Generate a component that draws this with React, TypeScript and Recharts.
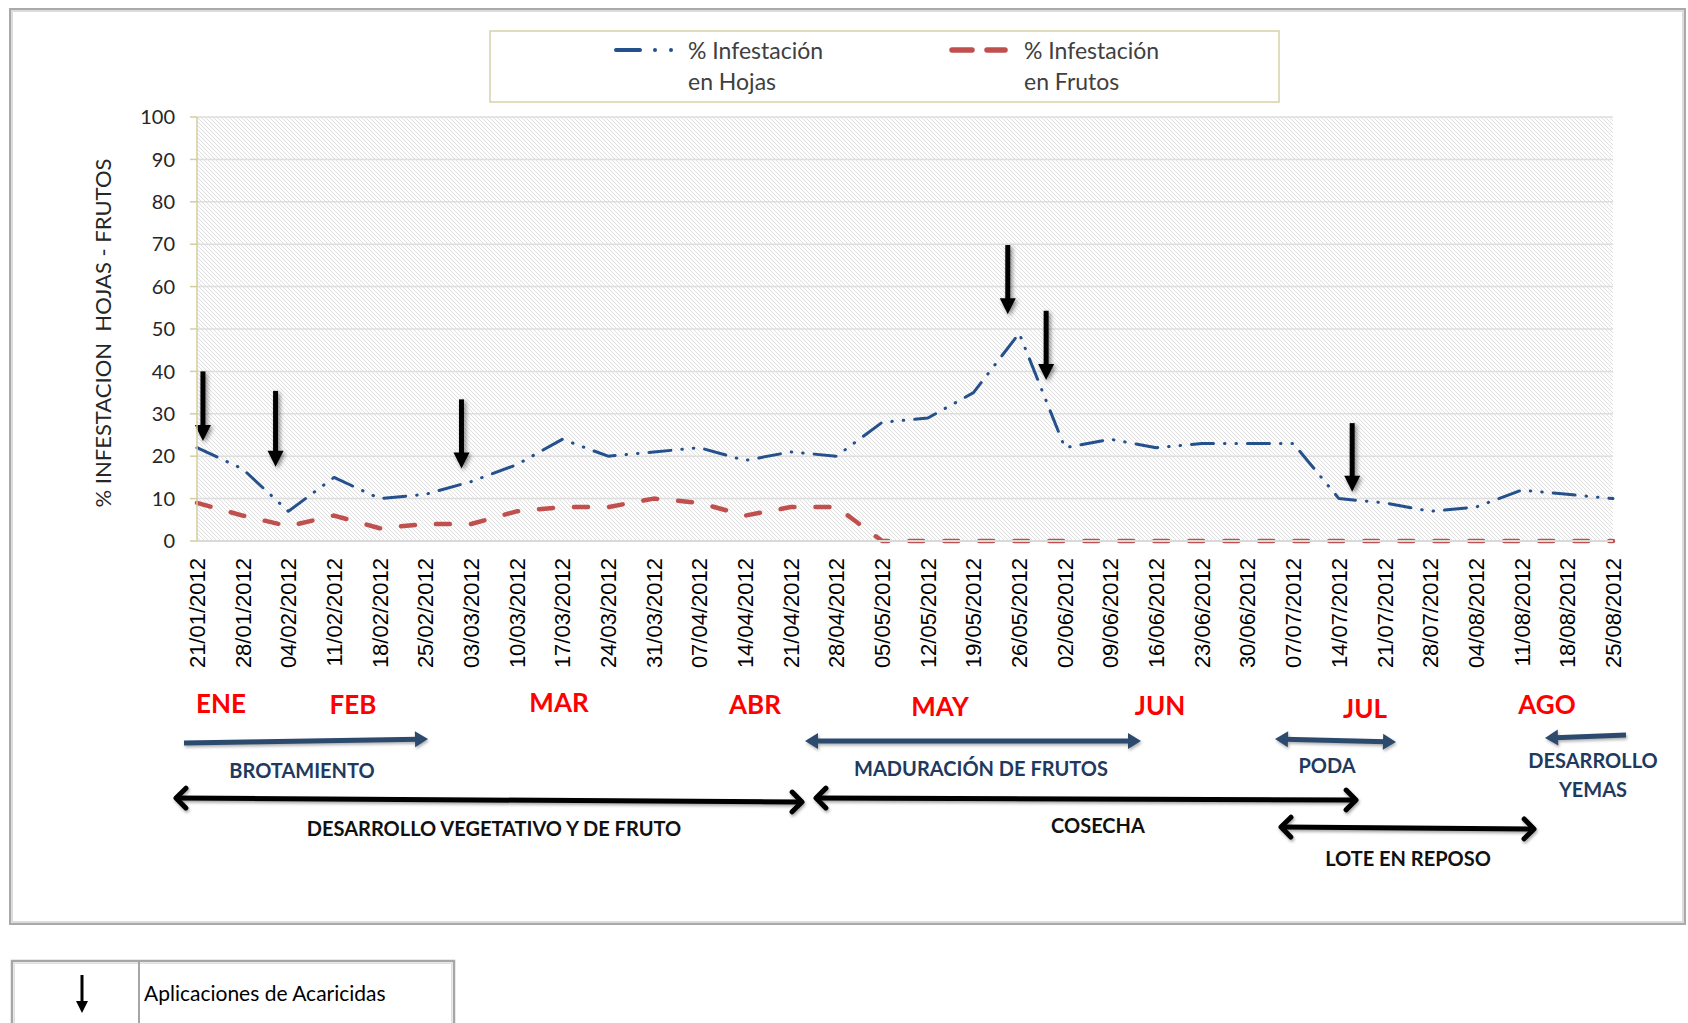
import { LineChart, Line, XAxis, YAxis, CartesianGrid, ReferenceLine } from "recharts";

const fechas = [
  "21/01/2012", "28/01/2012", "04/02/2012", "11/02/2012", "18/02/2012", "25/02/2012",
  "03/03/2012", "10/03/2012", "17/03/2012", "24/03/2012", "31/03/2012", "07/04/2012",
  "14/04/2012", "21/04/2012", "28/04/2012", "05/05/2012", "12/05/2012", "19/05/2012",
  "26/05/2012", "02/06/2012", "09/06/2012", "16/06/2012", "23/06/2012", "30/06/2012",
  "07/07/2012", "14/07/2012", "21/07/2012", "28/07/2012", "04/08/2012", "11/08/2012",
  "18/08/2012", "25/08/2012",
];

const infHojas = [22, 17, 7, 15, 10, 11, 14, 18, 24, 20, 21, 22, 19, 21, 20, 28, 29, 35, 49, 22, 24, 22, 23, 23, 23, 10, 9, 7, 8, 12, 11, 10];
const infFrutos = [9, 6, 3.5, 6, 3, 4, 4, 7, 8, 8, 10, 9, 6, 8, 8, 0, 0, 0, 0, 0, 0, 0, 0, 0, 0, 0, 0, 0, 0, 0, 0, 0];

const yTicks = [0, 10, 20, 30, 40, 50, 60, 70, 80, 90, 100];
const yTicksMenores = [0, 2, 4, 6, 8, 10, 12, 14, 16, 18, 20, 22, 24, 26, 28, 30, 32, 34, 36, 38, 40, 42, 44, 46, 48, 50, 52, 54, 56, 58, 60, 62, 64, 66, 68, 70, 72, 74, 76, 78, 80, 82, 84, 86, 88, 90, 92, 94, 96, 98, 100];

// aplicaciones de acaricidas: posicion (semana), inicio y punta de la flecha (%)
const aplicaciones = [
  { pos: 0.13, desde: 40, hasta: 23.6 },
  { pos: 1.72, desde: 35.4, hasta: 17.5 },
  { pos: 5.79, desde: 33.4, hasta: 17.1 },
  { pos: 17.75, desde: 69.8, hasta: 53.5 },
  { pos: 18.59, desde: 54.3, hasta: 38 },
  { pos: 25.29, desde: 27.8, hasta: 11.6 },
];

const meses = [
  { t: "ENE", x: 221, y: 703 },
  { t: "FEB", x: 353, y: 704 },
  { t: "MAR", x: 559, y: 702 },
  { t: "ABR", x: 755, y: 704 },
  { t: "MAY", x: 940, y: 706 },
  { t: "JUN", x: 1160, y: 705 },
  { t: "JUL", x: 1365, y: 708 },
  { t: "AGO", x: 1547, y: 704 },
];

const data = fechas.map((f, i) => ({ i, fecha: f, hojas: infHojas[i], frutos: infFrutos[i] }));

const AZUL = "#24508c";
const ROJO = "#c0504d";
const NAVY = "#2c4a6e";
const KHAKI = "#d6cc9c";

const FechaTick = (props: any) => {
  const { x, y, payload } = props;
  return (
    <text
      x={x}
      y={y}
      transform={`rotate(-90 ${x} ${y})`}
      textAnchor="end"
      dy="0.36em"
      fontFamily="'Liberation Sans', Arial, sans-serif"
      fontSize={22}
      fill="#000"
    >
      {fechas[payload.value]}
    </text>
  );
};

const FlechaAplicacion = (props: any) => {
  const { x1, y1, x2, y2 } = props;
  return (
    <g style={{ filter: "drop-shadow(2px 2px 2px rgba(0,0,0,0.45))" }}>
      <line x1={x1} y1={y1} x2={x2} y2={y2 - 10} stroke="#000" strokeWidth={5} />
      <polygon points={`${x2 - 8},${y2 - 16} ${x2 + 8},${y2 - 16} ${x2},${y2}`} fill="#000" />
    </g>
  );
};

function FlechaAzul({ x1, y1, x2, y2, inicio, fin }: any) {
  const ang = Math.atan2(y2 - y1, x2 - x1);
  const cab = (x: number, y: number, a: number) => {
    const L = 13, W = 8;
    const bx = x - L * Math.cos(a), by = y - L * Math.sin(a);
    const px = -Math.sin(a) * W, py = Math.cos(a) * W;
    return `${x},${y} ${bx + px},${by + py} ${bx - px},${by - py}`;
  };
  const ax = inicio ? x1 + 10 * Math.cos(ang) : x1;
  const ay = inicio ? y1 + 10 * Math.sin(ang) : y1;
  const bx = fin ? x2 - 10 * Math.cos(ang) : x2;
  const by = fin ? y2 - 10 * Math.sin(ang) : y2;
  return (
    <g style={{ filter: "drop-shadow(1px 2px 1.5px rgba(0,0,0,0.3))" }}>
      <line x1={ax} y1={ay} x2={bx} y2={by} stroke={NAVY} strokeWidth={5} />
      {fin && <polygon points={cab(x2, y2, ang)} fill={NAVY} />}
      {inicio && <polygon points={cab(x1, y1, ang + Math.PI)} fill={NAVY} />}
    </g>
  );
}

function FlechaNegra({ x1, y1, x2, y2 }: any) {
  const ang = Math.atan2(y2 - y1, x2 - x1);
  const chev = (x: number, y: number, a: number) => {
    const L = 14;
    const p1 = [x - L * Math.cos(a - Math.PI / 4), y - L * Math.sin(a - Math.PI / 4)];
    const p2 = [x - L * Math.cos(a + Math.PI / 4), y - L * Math.sin(a + Math.PI / 4)];
    return `${p1[0]},${p1[1]} ${x},${y} ${p2[0]},${p2[1]}`;
  };
  return (
    <g style={{ filter: "drop-shadow(1px 2px 1.5px rgba(0,0,0,0.35))" }} stroke="#000" strokeWidth={5} fill="none" strokeLinecap="round" strokeLinejoin="round">
      <line x1={x1 + 2} y1={y1} x2={x2 - 2} y2={y2} />
      <polyline points={chev(x2, y2, ang)} />
      <polyline points={chev(x1, y1, ang + Math.PI)} />
    </g>
  );
}

const fuenteEtiq = "Lato, 'Open Sans', sans-serif";

export default function App() {
  return (
    <div style={{ position: "absolute", left: 0, top: 0, width: 1688, height: 1023, overflow: "hidden", background: "#fff" }}>
      <div
        style={{
          position: "absolute",
          left: 9,
          top: 8,
          width: 1677,
          height: 917,
          boxSizing: "border-box",
          border: "2px solid #a9a9a9",
          boxShadow: "inset 0 0 0 2px #dcdcdc",
        }}
      />
      <div style={{ position: "absolute", left: 0, top: 0 }}>
        <LineChart width={1688} height={700} data={data} margin={{ top: 117, right: 75, bottom: 0, left: 0 }}>
          <defs>
            <pattern id="trama" width="4" height="4" patternUnits="userSpaceOnUse">
              <rect width="4" height="4" fill="#fdfdfd" />
              <path d="M-1,-1 L5,5 M3,-1 L5,1 M-1,3 L1,5" stroke="#dcdcdc" strokeWidth={0.9} />
            </pattern>
          </defs>
          <CartesianGrid vertical={false} stroke="#dedede" strokeWidth={1.5} fill="url(#trama)" fillOpacity={1} />
          <XAxis
            dataKey="i"
            type="number"
            domain={[0, 31]}
            ticks={fechas.map((_, i) => i)}
            interval={0}
            tick={<FechaTick />}
            tickLine={false}
            tickSize={0}
            tickMargin={17}
            axisLine={{ stroke: "#d9d9d9", strokeWidth: 2 }}
            height={159}
          />
          <YAxis
            domain={[0, 100]}
            ticks={yTicks}
            interval={0}
            width={197}
            tickSize={7}
            tickMargin={15}
            axisLine={{ stroke: KHAKI, strokeWidth: 1.5 }}
            tickLine={{ stroke: KHAKI, strokeWidth: 1.5 }}
            tick={{ fontFamily: fuenteEtiq, fontSize: 20, fill: "#262626" }}
          />
          <YAxis
            yAxisId="menor"
            type="number"
            domain={[0, 100]}
            ticks={yTicksMenores}
            interval={0}
            width={0}
            tickSize={5}
            tick={false}
            axisLine={false}
            tickLine={{ stroke: KHAKI, strokeWidth: 1.5 }}
          />
          <Line
            dataKey="hojas"
            type="linear"
            stroke={AZUL}
            strokeWidth={3}
            strokeDasharray="22 11 0.5 11 0.5 11"
            strokeLinecap="round"
            strokeLinejoin="round"
            dot={false}
            isAnimationActive={false}
          />
          <Line
            dataKey="frutos"
            type="linear"
            stroke={ROJO}
            strokeWidth={4.5}
            strokeDasharray="14 21"
            strokeLinecap="round"
            strokeLinejoin="round"
            dot={false}
            isAnimationActive={false}
          />
          {aplicaciones.map((a, k) => (
            <ReferenceLine
              key={k}
              segment={[
                { x: a.pos, y: a.desde },
                { x: a.pos, y: a.hasta },
              ]}
              shape={FlechaAplicacion}
            />
          ))}
        </LineChart>
      </div>

      <svg width={1688} height={1023} style={{ position: "absolute", left: 0, top: 0, pointerEvents: "none" }}>
        {/* leyenda */}
        <rect x={490} y={31} width={789} height={71} fill="#fff" stroke="#d8d2a6" strokeWidth={1.5} />
        <line x1={616} y1={50} x2={640} y2={50} stroke={AZUL} strokeWidth={4} strokeLinecap="round" />
        <circle cx={655} cy={50} r={2} fill={AZUL} />
        <circle cx={671} cy={50} r={2} fill={AZUL} />
        <text x={688} y={50} dominantBaseline="central" fontFamily={fuenteEtiq} fontSize={23} fill="#404040">% Infestación</text>
        <text x={688} y={81} dominantBaseline="central" fontFamily={fuenteEtiq} fontSize={23} fill="#404040">en Hojas</text>
        <line x1={952} y1={50} x2={972} y2={50} stroke={ROJO} strokeWidth={5.5} strokeLinecap="round" />
        <line x1={987} y1={50} x2={1005} y2={50} stroke={ROJO} strokeWidth={5.5} strokeLinecap="round" />
        <text x={1024} y={50} dominantBaseline="central" fontFamily={fuenteEtiq} fontSize={23} fill="#404040">% Infestación</text>
        <text x={1024} y={81} dominantBaseline="central" fontFamily={fuenteEtiq} fontSize={23} fill="#404040">en Frutos</text>

        {/* titulo eje Y */}
        <text
          transform="translate(102,333) rotate(-90)"
          textAnchor="middle"
          dominantBaseline="central"
          fontFamily={fuenteEtiq}
          fontSize={22}
          fill="#262626"
          style={{ whiteSpace: "pre" }}
        >
          {"% INFESTACION  HOJAS - FRUTOS"}
        </text>

        {/* meses */}
        {meses.map((m) => (
          <text key={m.t} x={m.x} y={m.y} textAnchor="middle" dominantBaseline="central" fontFamily={fuenteEtiq} fontWeight={700} fontSize={26} fill="#ff0000">
            {m.t}
          </text>
        ))}

        {/* etapas fenologicas */}
        <FlechaAzul x1={184} y1={743} x2={428} y2={739} fin />
        <FlechaAzul x1={805} y1={741} x2={1141} y2={741} inicio fin />
        <FlechaAzul x1={1275} y1={739} x2={1396} y2={742} inicio fin />
        <FlechaAzul x1={1626} y1={735} x2={1545} y2={738} fin />
        <g fontFamily={fuenteEtiq} fontWeight={700} fontSize={20} fill="#1f3a5f" textAnchor="middle" dominantBaseline="central">
          <text x={302} y={770}>BROTAMIENTO</text>
          <text x={981} y={768}>MADURACIÓN DE FRUTOS</text>
          <text x={1327} y={765}>PODA</text>
          <text x={1593} y={760}>DESARROLLO</text>
          <text x={1593} y={789}>YEMAS</text>
        </g>

        <FlechaNegra x1={176} y1={798} x2={802} y2={802} />
        <FlechaNegra x1={816} y1={798} x2={1356} y2={800} />
        <FlechaNegra x1={1281} y1={827} x2={1534} y2={829} />
        <g fontFamily={fuenteEtiq} fontWeight={700} fontSize={20} fill="#111" textAnchor="middle" dominantBaseline="central">
          <text x={494} y={828}>DESARROLLO VEGETATIVO Y DE FRUTO</text>
          <text x={1098} y={825}>COSECHA</text>
          <text x={1408} y={858}>LOTE EN REPOSO</text>
        </g>

        {/* tabla de simbolos */}
        <rect x={12} y={961} width={442} height={80} fill="#fff" stroke="#a6a6a6" strokeWidth={2.5} />
        <rect x={14.5} y={963.5} width={437} height={80} fill="none" stroke="#e0e0e0" strokeWidth={1} />
        <line x1={139} y1={961} x2={139} y2={1023} stroke="#a6a6a6" strokeWidth={2} />
        <line x1={82} y1={975} x2={82} y2={1003} stroke="#000" strokeWidth={3} />
        <polygon points="76,1001 88,1001 82,1013" fill="#000" />
        <text x={144} y={1001} fontFamily={fuenteEtiq} fontSize={21} fill="#000">Aplicaciones de Acaricidas</text>
      </svg>
    </div>
  );
}
